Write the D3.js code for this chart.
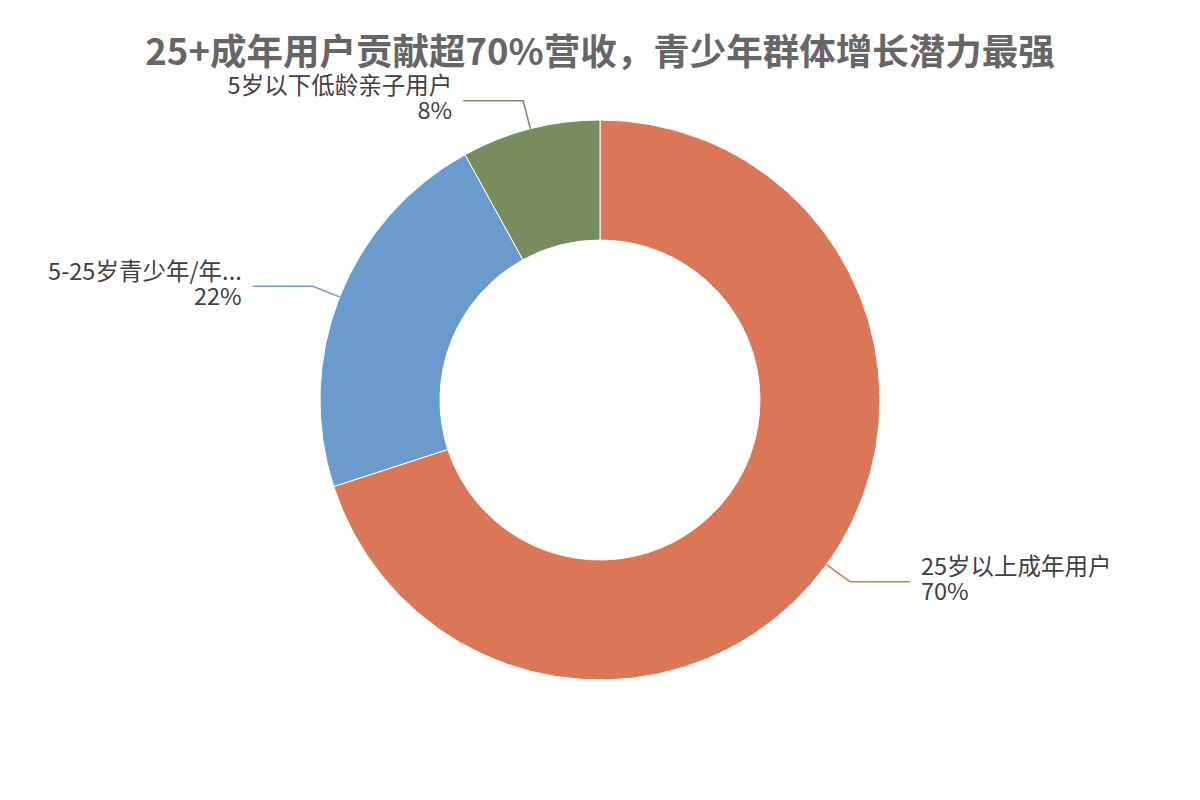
<!DOCTYPE html>
<html>
<head>
<meta charset="utf-8">
<script src="https://cdn.jsdelivr.net/npm/d3@7"></script>
<style>
  body { margin: 0; background: #fff; }
  text { font-family: "Noto Sans CJK SC", "Microsoft YaHei", sans-serif; }
</style>
</head>
<body>
<svg id="chart" width="1200" height="800"></svg>
<script>
// data
const titleText = "25+成年用户贡献超70%营收，青少年群体增长潜力最强";
const categories = ["25岁以上成年用户", "5-25岁青少年/年...", "5岁以下低龄亲子用户"];
const shares = [70, 22, 8];
const sliceColors = ["#D97757", "#6A9BCC", "#788C5D"];

const width = 1200, height = 800;
const cx = 600, cy = 400;
const outerR = 280, innerR = 160, elbowR = 309;

const svg = d3.select("#chart");

svg.append("text")
  .attr("x", width / 2)
  .attr("y", 55)
  .attr("text-anchor", "middle")
  .attr("dominant-baseline", "middle")
  .attr("font-size", 36.5)
  .attr("font-weight", "bold")
  .attr("fill", "#666666")
  .text(titleText);

const data = categories.map((name, i) => ({ name, value: shares[i], color: sliceColors[i] }));

const pie = d3.pie().sort(null).value((d) => d.value);
const arc = d3.arc().innerRadius(innerR).outerRadius(outerR);

const g = svg.append("g").attr("transform", `translate(${cx},${cy})`);
const arcs = pie(data);

g.selectAll("path.slice")
  .data(arcs)
  .join("path")
  .attr("class", "slice")
  .attr("d", arc)
  .attr("fill", (d) => d.data.color)
  .attr("stroke", "#fff")
  .attr("stroke-width", 1);

// leader lines + labels
const pointAt = (angle, r) => [r * Math.sin(angle), -r * Math.cos(angle)];

arcs.forEach((d) => {
  const mid = (d.startAngle + d.endAngle) / 2;
  const p0 = pointAt(mid, outerR);
  const p1 = pointAt(mid, elbowR);
  const right = Math.sin(mid) > 0;
  const p2 = [p1[0] + (right ? 60 : -60), p1[1]];

  g.append("polyline")
    .attr("points", [p0, p1, p2].map((p) => p.join(",")).join(" "))
    .attr("fill", "none")
    .attr("stroke", d.data.color)
    .attr("stroke-width", 1.5);

  const tx = p2[0] + (right ? 11 : -11);
  const anchor = right ? "start" : "end";
  g.append("text")
    .attr("x", tx)
    .attr("y", p2[1] - 13)
    .attr("text-anchor", anchor)
    .attr("dominant-baseline", "middle")
    .attr("font-size", 23.5)
    .attr("fill", "#404040")
    .text(d.data.name);
  g.append("text")
    .attr("x", tx)
    .attr("y", p2[1] + 12)
    .attr("text-anchor", anchor)
    .attr("dominant-baseline", "middle")
    .attr("font-size", 23.5)
    .attr("fill", "#404040")
    .text(d.data.value + "%");
});
</script>
</body>
</html>
